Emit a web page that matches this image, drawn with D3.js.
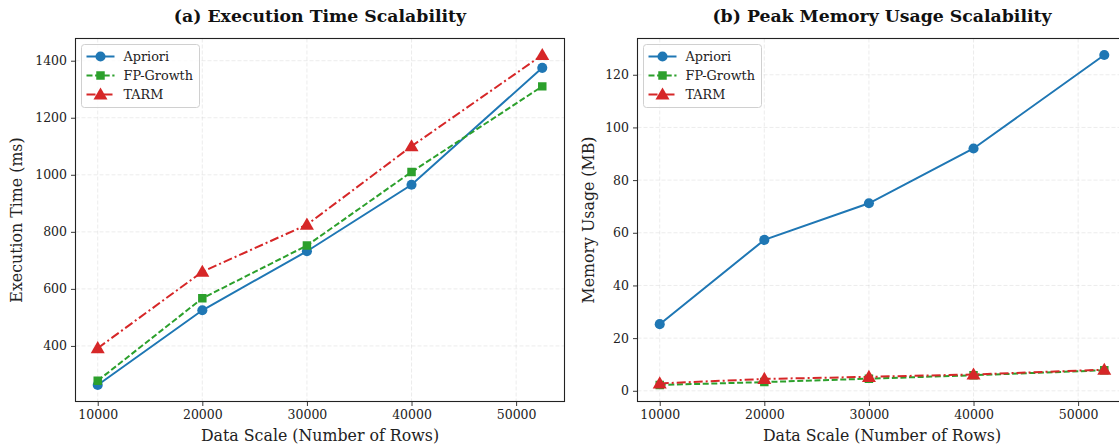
<!DOCTYPE html>
<html><head><meta charset="utf-8">
<script src="https://cdn.jsdelivr.net/npm/d3@7"></script>
<style>
body{margin:0;background:#fff;}
svg{display:block;font-family:"DejaVu Serif",serif;}
</style></head>
<body><svg id="c" width="1119" height="448"></svg>
<script>
const dataScale = [10000, 20000, 30000, 40000, 52500];
const xTicks = [10000, 20000, 30000, 40000, 50000];
const seriesNames = ["Apriori", "FP-Growth", "TARM"];
const timeApriori = [263, 525, 732, 965, 1375];
const timeFP = [278, 567, 752, 1010, 1310];
const timeTARM = [392, 660, 825, 1100, 1420];
const memApriori = [25.3, 57.3, 71.2, 92.0, 127.5];
const memFP = [2.2, 3.3, 4.6, 5.9, 7.8];
const memTARM = [2.8, 4.5, 5.3, 6.2, 8.0];
const timeTicks = [400, 600, 800, 1000, 1200, 1400];
const memTicks = [0, 20, 40, 60, 80, 100, 120];

const colors = ["#1f77b4", "#2ca02c", "#d62728"];
const dashes = [null, "6,2.6", "9,3,2,3"];
const markers = [d3.symbolCircle, d3.symbolSquare, d3.symbolTriangle];
const markerSize = [80, 72, 85];

const svg = d3.select("#c");

function panel(opts) {
  const {left, right, top, bottom, series, yTicks, title, ylabel, ylabelX} = opts;
  const g = svg.append("g");
  const allY = series.flat();
  const yMin = d3.min(allY), yMax = d3.max(allY);
  const yPad = (yMax - yMin) * 0.05;
  const xMin = d3.min(dataScale), xMax = d3.max(dataScale);
  const xPad = (xMax - xMin) * 0.05;
  const x = d3.scaleLinear().domain([xMin - xPad, xMax + xPad]).range([left, right]);
  const y = d3.scaleLinear().domain([yMin - yPad, yMax + yPad]).range([bottom, top]);

  const clipId = "clip" + Math.round(left);
  svg.append("clipPath").attr("id", clipId).append("rect")
    .attr("x", left).attr("y", top).attr("width", right - left).attr("height", bottom - top);

  // grid
  const grid = g.append("g").attr("clip-path", `url(#${clipId})`);
  grid.selectAll(".gx").data(xTicks).join("line")
    .attr("x1", d => x(d)).attr("x2", d => x(d)).attr("y1", top).attr("y2", bottom)
    .attr("stroke", "#b0b0b0").attr("stroke-opacity", 0.3).attr("stroke-dasharray", "4,2").attr("stroke-width", 0.8);
  grid.selectAll(".gy").data(yTicks).join("line")
    .attr("y1", d => y(d)).attr("y2", d => y(d)).attr("x1", left).attr("x2", right)
    .attr("stroke", "#b0b0b0").attr("stroke-opacity", 0.3).attr("stroke-dasharray", "4,2").attr("stroke-width", 0.8);

  // lines
  const plot = g.append("g").attr("clip-path", `url(#${clipId})`);
  const line = d3.line().x((d, i) => x(dataScale[i])).y(d => y(d));
  series.forEach((s, k) => {
    plot.append("path").attr("d", line(s)).attr("fill", "none")
      .attr("stroke", colors[k]).attr("stroke-width", 2)
      .attr("stroke-dasharray", dashes[k]);
    plot.selectAll(null).data(s).join("path")
      .attr("transform", (d, i) => `translate(${x(dataScale[i])},${y(d) + (k === 2 ? 1 : 0)})`)
      .attr("d", d3.symbol().type(markers[k]).size(markerSize[k]))
      .attr("fill", colors[k]);
  });

  // axes
  const xAxis = d3.axisBottom(x).tickValues(xTicks).tickFormat(d3.format("d")).tickSizeOuter(0).tickSize(4.5).tickPadding(4);
  const yAxis = d3.axisLeft(y).tickValues(yTicks).tickFormat(d3.format("d")).tickSizeOuter(0).tickSize(4.5).tickPadding(4);
  const gx = g.append("g").attr("transform", `translate(0,${bottom})`).call(xAxis);
  const gy = g.append("g").attr("transform", `translate(${left},0)`).call(yAxis);
  [gx, gy].forEach(a => {
    a.select(".domain").remove();
    a.selectAll("text").attr("font-family", "DejaVu Serif").attr("font-size", 12.5).attr("fill", "#222");
    a.selectAll("line").attr("stroke", "#222").attr("stroke-width", 0.9);
  });

  // spines
  g.append("rect").attr("x", left).attr("y", top).attr("width", right - left).attr("height", bottom - top)
    .attr("fill", "none").attr("stroke", "#222").attr("stroke-width", 1.1);

  // title & labels
  g.append("text").attr("x", (left + right) / 2).attr("y", 22).attr("text-anchor", "middle")
    .attr("font-weight", "bold").attr("font-size", 17.3).attr("fill", "#111").text(title);
  g.append("text").attr("x", (left + right) / 2).attr("y", 441).attr("text-anchor", "middle")
    .attr("font-size", 15.8).attr("fill", "#222").text("Data Scale (Number of Rows)");
  g.append("text").attr("transform", `translate(${ylabelX},${(top + bottom) / 2}) rotate(-90)`)
    .attr("text-anchor", "middle").attr("font-size", 15.8).attr("fill", "#222").text(ylabel);

  // legend
  const lx = left + 6, ly = top + 6;
  const lg = g.append("g");
  lg.append("rect").attr("x", lx).attr("y", ly).attr("width", 118).attr("height", 63).attr("rx", 3)
    .attr("fill", "#fff").attr("fill-opacity", 0.8).attr("stroke", "#d0d0d0").attr("stroke-width", 1);
  seriesNames.forEach((n, k) => {
    const yy = ly + 12 + k * 19;
    lg.append("line").attr("x1", lx + 5).attr("x2", lx + 33).attr("y1", yy).attr("y2", yy)
      .attr("stroke", colors[k]).attr("stroke-width", 2).attr("stroke-dasharray", dashes[k]);
    lg.append("path").attr("transform", `translate(${lx + 19},${yy + (k === 2 ? 1 : 0)})`)
      .attr("d", d3.symbol().type(markers[k]).size(markerSize[k])).attr("fill", colors[k]);
    lg.append("text").attr("x", lx + 42).attr("y", yy + 4.5).attr("font-size", 12.8).attr("fill", "#222").text(n);
  });
}

panel({left: 75.5, right: 564.5, top: 38.5, bottom: 401.5,
  series: [timeApriori, timeFP, timeTARM], yTicks: timeTicks,
  title: "(a) Execution Time Scalability", ylabel: "Execution Time (ms)", ylabelX: 22});
panel({left: 637.5, right: 1126.5, top: 38.5, bottom: 401.5,
  series: [memApriori, memFP, memTARM], yTicks: memTicks,
  title: "(b) Peak Memory Usage Scalability", ylabel: "Memory Usage (MB)", ylabelX: 594});
</script></body></html>
